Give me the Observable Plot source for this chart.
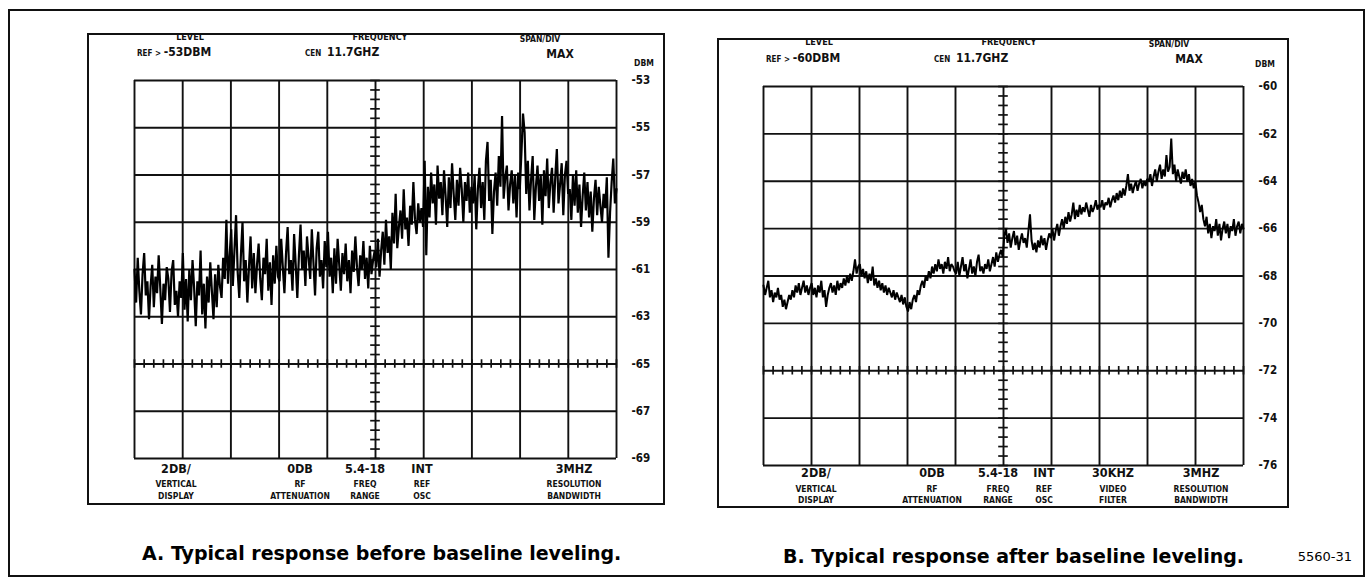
<!DOCTYPE html>
<html><head><meta charset="utf-8">
<script src="https://cdn.jsdelivr.net/npm/d3@7"></script>
<script src="https://cdn.jsdelivr.net/npm/@observablehq/plot@0.6"></script>
<style>
html,body{margin:0;padding:0;background:#fff;}
#page{position:relative;width:1370px;height:585px;overflow:hidden;background:#fff;color:#111;
  font-family:"Liberation Sans Narrow","DejaVu Sans Condensed","Roboto",sans-serif;}
.t{position:absolute;white-space:nowrap;font-weight:bold;line-height:1;}
.box{position:absolute;border:2px solid #111;box-sizing:border-box;}
.panel{position:absolute;}
.panel svg text{font-weight:bold;}
.cap{position:absolute;white-space:nowrap;font-family:"DejaVu Sans",sans-serif;font-weight:bold;line-height:1;color:#000;}
</style></head>
<body><div id="page"></div>
<script>
// ---------- data ----------
const xTicks = [0,1,2,3,4,5,6,7,8,9,10];
const yTicksA = [-53,-55,-57,-59,-61,-63,-65,-67,-69];
const yTicksB = [-60,-62,-64,-66,-68,-70,-72,-74,-76];

const traceA = [
-61.0,-62.4,-60.5,-61.9,-62.9,-61.2,-60.3,-62.1,-61.5,-63.1,-61.7,-60.8,-62.6,-61.3,-62.0,-60.4,-61.8,-63.3,-61.6,-62.3,-60.9,-61.4,-62.8,-61.1,-60.6,-62.5,-61.9,-63.0,-61.5,-62.2,
-60.3,-62.7,-61.4,-63.2,-61.0,-62.3,-60.6,-61.8,-63.4,-61.5,-62.1,-60.2,-62.9,-61.6,-63.5,-61.3,-62.4,-60.7,-61.9,-63.1,-61.2,-62.6,-60.8,-61.7,-62.2,-60.5,-61.4,-58.9,-61.6,-60.4,
-59.3,-61.7,-60.2,-58.7,-61.1,-62.2,-60.4,-59.0,-61.5,-60.6,-62.4,-60.9,-59.6,-61.8,-60.3,-62.0,-60.8,-59.9,-61.4,-62.3,-60.5,-61.2,-59.7,-61.9,-60.7,-62.5,-60.4,-61.6,-60.0,-61.3,
-61.5,-59.7,-60.9,-62.0,-60.3,-59.2,-61.2,-60.6,-61.9,-59.5,-60.8,-62.2,-60.4,-59.1,-61.0,-60.2,-61.7,-59.6,-60.5,-61.4,-59.3,-60.7,-62.1,-60.1,-59.4,-61.3,-60.6,-61.8,-59.8,-60.9,
-59.4,-61.3,-60.5,-62.0,-60.1,-61.6,-59.7,-60.8,-61.9,-60.3,-61.2,-59.9,-61.5,-60.6,-62.0,-60.2,-61.1,-59.6,-60.9,-61.7,-60.4,-61.0,-59.8,-61.4,-60.5,-61.8,-60.0,-61.2,-60.6,-60.2,
-60.9,-59.7,-61.3,-60.2,-59.4,-60.8,-58.9,-60.3,-59.6,-61.0,-58.6,-59.9,-57.8,-60.1,-59.2,-58.5,-59.7,-57.6,-59.3,-58.8,-60.0,-58.3,-59.1,-57.3,-58.9,-59.5,-58.2,-59.0,-58.4,-59.2,
-56.4,-60.4,-57.5,-58.8,-56.9,-58.2,-57.4,-59.1,-56.6,-58.0,-57.3,-58.7,-56.8,-57.9,-59.2,-57.1,-58.4,-56.5,-57.8,-58.9,-57.2,-58.3,-56.7,-57.6,-59.0,-57.3,-58.1,-56.9,-58.6,-57.5,
-58.2,-57.0,-59.3,-57.6,-56.7,-58.4,-57.3,-58.9,-56.4,-55.6,-58.1,-57.2,-59.5,-57.7,-56.9,-58.3,-56.2,-57.5,-54.5,-58.0,-57.1,-56.6,-58.5,-57.4,-56.8,-58.2,-57.0,-58.8,-56.9,-57.6,
-56.1,-54.4,-55.2,-57.8,-56.4,-58.5,-57.2,-56.2,-58.9,-57.5,-56.6,-58.1,-57.0,-59.1,-56.8,-57.9,-56.3,-58.4,-57.3,-56.7,-58.6,-57.1,-55.9,-58.2,-57.4,-56.5,-58.7,-57.0,-56.4,-57.8,
-57.6,-58.9,-57.0,-58.3,-56.8,-58.6,-57.4,-59.2,-57.9,-56.9,-58.5,-57.3,-58.8,-57.7,-59.4,-58.0,-57.2,-58.7,-57.5,-58.3,-59.0,-57.8,-58.4,-57.1,-60.5,-58.6,-57.3,-56.3,-58.2,-57.6
];
const traceB = [
-68.4,-68.8,-68.5,-68.2,-68.9,-68.6,-69.1,-68.7,-68.9,-68.5,-69.0,-68.8,-69.3,-69.0,-69.4,-69.1,-68.8,-69.0,-68.6,-68.9,-68.4,-68.7,-68.3,-68.8,-68.5,-68.2,-68.7,-68.4,-68.8,-68.5,
-68.3,-68.8,-68.5,-68.9,-68.4,-68.7,-68.2,-68.9,-68.6,-69.3,-68.8,-68.5,-68.3,-68.7,-68.4,-68.8,-68.2,-68.6,-68.3,-68.5,-68.1,-68.4,-68.0,-68.3,-67.9,-68.2,-67.8,-67.3,-67.9,-67.6,
-67.5,-68.0,-67.7,-68.1,-67.8,-68.3,-67.9,-68.2,-67.6,-68.4,-68.1,-68.5,-68.2,-68.6,-68.3,-68.7,-68.4,-68.8,-68.5,-68.7,-68.9,-68.6,-69.0,-68.7,-68.9,-69.1,-68.8,-69.2,-68.9,-69.3,
-69.5,-69.1,-69.4,-69.0,-68.8,-69.1,-68.6,-68.8,-68.4,-68.2,-68.5,-68.0,-68.2,-67.8,-68.1,-67.6,-67.9,-67.5,-67.8,-67.3,-67.7,-67.5,-67.9,-67.4,-67.7,-67.2,-67.8,-67.5,-67.6,-67.8,
-67.9,-67.4,-68.0,-67.6,-67.2,-67.8,-67.5,-68.1,-67.7,-67.3,-67.9,-67.6,-68.0,-67.4,-67.1,-67.8,-67.6,-67.9,-67.5,-67.7,-67.3,-67.8,-67.5,-67.2,-67.6,-67.0,-67.4,-67.1,-66.9,-67.2,
-66.3,-66.0,-66.6,-66.2,-66.8,-66.4,-66.1,-66.7,-66.3,-66.9,-66.5,-66.2,-66.6,-66.4,-66.8,-66.1,-65.4,-66.5,-66.9,-66.6,-67.0,-66.5,-66.8,-66.3,-66.7,-66.4,-66.9,-66.5,-66.2,-66.4,
-66.0,-66.5,-66.1,-65.8,-66.3,-65.9,-65.6,-66.0,-65.5,-65.8,-65.3,-65.7,-65.4,-64.9,-65.6,-65.2,-65.5,-65.0,-65.4,-65.1,-65.3,-64.9,-65.2,-65.5,-65.0,-65.3,-65.1,-64.8,-65.2,-65.0,
-65.1,-64.8,-65.2,-64.9,-65.0,-64.7,-65.1,-64.8,-64.6,-64.9,-64.5,-64.8,-64.4,-64.7,-64.3,-64.6,-64.2,-63.7,-64.4,-64.1,-64.5,-64.2,-64.0,-64.4,-64.1,-63.9,-64.3,-64.0,-64.2,-63.9,
-64.0,-63.7,-64.2,-63.8,-63.5,-64.0,-63.6,-63.3,-63.9,-63.5,-63.8,-62.9,-63.6,-63.4,-62.2,-63.7,-63.3,-64.0,-63.5,-63.8,-64.1,-63.6,-63.9,-63.5,-64.0,-63.7,-64.2,-63.9,-64.3,-64.0,
-64.6,-64.9,-65.3,-65.0,-65.6,-65.9,-65.5,-66.2,-65.8,-66.4,-65.9,-66.1,-65.6,-66.3,-65.8,-66.5,-66.0,-65.7,-66.2,-65.8,-66.4,-65.9,-66.1,-65.6,-66.3,-65.9,-65.7,-66.2,-65.8,-66.0
];

const unitLabel = "DBM";
const refA = ["REF >", "-53DBM"];
const refB = ["REF >", "-60DBM"];
const headerTitles = ["LEVEL", "FREQUENCY", "SPAN/DIV"];
const centerFreq = ["CEN", "11.7GHZ"];
const spanValue = "MAX";
const footerValuesA = ["2DB/", "0DB", "5.4-18", "INT", "3MHZ"];
const footerNamesA = [["VERTICAL","DISPLAY"],["RF","ATTENUATION"],["FREQ","RANGE"],["REF","OSC"],["RESOLUTION","BANDWIDTH"]];
const footerValuesB = ["2DB/", "0DB", "5.4-18", "INT", "30KHZ", "3MHZ"];
const footerNamesB = [["VERTICAL","DISPLAY"],["RF","ATTENUATION"],["FREQ","RANGE"],["REF","OSC"],["VIDEO","FILTER"],["RESOLUTION","BANDWIDTH"]];
const captions = ["A. Typical response before baseline leveling.", "B. Typical response after baseline leveling."];
const figureId = "5560-31";

// ---------- layout ----------
const page = document.getElementById("page");
function addText(txt, x, y, size, anchor, cls) {
  const d = document.createElement("div");
  d.className = cls || "t";
  d.textContent = txt;
  d.style.left = x + "px";
  d.style.top = y + "px";
  d.style.fontSize = size + "px";
  const tx = anchor === "middle" ? "-50%" : anchor === "end" ? "-100%" : "0";
  d.style.transform = `translate(${tx},-50%)`;
  page.appendChild(d);
  return d;
}
function addBox(l, t, r, b, w) {
  const d = document.createElement("div");
  d.className = "box";
  Object.assign(d.style, {left: l+"px", top: t+"px", width: (r-l)+"px", height: (b-t)+"px", borderWidth: (w||2)+"px"});
  page.appendChild(d);
}

addBox(8, 9, 1365, 577, 2);

function panel(cfg) {
  const {box, grid, ticks, trace} = cfg;
  addBox(box.l, box.t, box.r, box.b, 2);
  const data = trace.map((v, i) => ({x: i * 10 / (trace.length - 1), y: v}));
  const lo = ticks[ticks.length - 1], hi = ticks[0];
  const minorX = d3.range(0, 10.0001, 0.2);
  const minorY = d3.range(lo, hi + 0.0001, 0.4);
  const hLine = ticks[6];
  const svg = Plot.plot({
    width: box.r - box.l, height: box.b - box.t,
    marginLeft: grid.l - box.l, marginRight: box.r - grid.r,
    marginTop: grid.t - box.t, marginBottom: box.b - grid.b,
    x: {domain: [0, 10], axis: null},
    y: {domain: [lo, hi], axis: null},
    style: {background: "transparent", fontFamily: '"Liberation Sans Narrow","DejaVu Sans Condensed",sans-serif', fontSize: "11px", color: "#111", overflow: "visible"},
    marks: [
      Plot.ruleX(xTicks, {stroke: "#111", strokeWidth: 1.9}),
      Plot.ruleY(ticks, {stroke: "#111", strokeWidth: 1.9}),
      Plot.ruleX(minorX, {y1: hLine - 0.18, y2: hLine + 0.18, stroke: "#111", strokeWidth: 1.7}),
      Plot.ruleY(minorY, {x1: 4.9, x2: 5.1, stroke: "#111", strokeWidth: 1.7}),
      Plot.line(data, {x: "x", y: "y", stroke: "#000", strokeWidth: cfg.lineWidth, strokeLinejoin: "miter"}),
      Plot.axisY(ticks, {anchor: "right", tickSize: 0, tickPadding: 15, label: null, tickFormat: d => String(d), fontSize: 11.5, fontWeight: "bold", fill: "#111"})
    ]
  });
  const wrap = document.createElement("div");
  wrap.className = "panel";
  wrap.style.left = box.l + "px";
  wrap.style.top = box.t + "px";
  wrap.appendChild(svg);
  page.appendChild(wrap);

  // header
  const h = cfg.head;
  addText(headerTitles[0], h.level[0], h.level[1], 9, "middle");
  const r = addText("", h.ref[0], h.ref[1], 9, "start");
  r.innerHTML = `<span style="font-size:8px">${cfg.ref[0]}</span>&nbsp;<span style="font-size:12px">${cfg.ref[1]}</span>`;
  addText(headerTitles[1], h.freq[0], h.freq[1], 9, "middle");
  const c = addText("", h.cen[0], h.cen[1], 9, "start");
  c.innerHTML = `<span style="font-size:8px">${centerFreq[0]}</span>&nbsp;&nbsp;<span style="font-size:12px">${centerFreq[1]}</span>`;
  addText(headerTitles[2], h.span[0], h.span[1], 8.5, "middle");
  addText(spanValue, h.max[0], h.max[1], 12, "middle");
  addText(unitLabel, h.dbm[0], h.dbm[1], 8.5, "middle");

  // footer
  const f = cfg.foot;
  cfg.values.forEach((v, i) => {
    const x = f.xs[i];
    addText(v, x, f.y[0], 12.5, "middle");
    addText(cfg.names[i][0], x, f.y[1], 8.5, "middle");
    addText(cfg.names[i][1], x, f.y[2], 8.5, "middle");
  });
}

panel({
  box: {l: 87, t: 33, r: 665, b: 505},
  grid: {l: 134, t: 80, r: 616, b: 458},
  ticks: yTicksA, trace: traceA, ref: refA, lineWidth: 2.2,
  head: {level: [190, 37], ref: [137, 52], freq: [380, 37], cen: [305, 52], span: [540, 39], max: [560, 54], dbm: [644, 63]},
  values: footerValuesA, names: footerNamesA,
  foot: {xs: [176, 300, 365, 422, 574], y: [469, 484, 496]}
});
panel({
  box: {l: 717, t: 38, r: 1289, b: 508},
  grid: {l: 763, t: 86, r: 1243, b: 465},
  ticks: yTicksB, trace: traceB, ref: refB, lineWidth: 2.0,
  head: {level: [819, 42], ref: [766, 58], freq: [1009, 42], cen: [934, 58], span: [1169, 44], max: [1189, 59], dbm: [1265, 64]},
  values: footerValuesB, names: footerNamesB,
  foot: {xs: [816, 932, 998, 1044, 1113, 1201], y: [473, 489, 500]}
});

addText(captions[0], 142, 553, 19, "start", "cap");
addText(captions[1], 783, 556, 19, "start", "cap");
addText(figureId, 1352, 556, 13, "end", "cap").style.fontWeight = "normal";
</script>
</body></html>
